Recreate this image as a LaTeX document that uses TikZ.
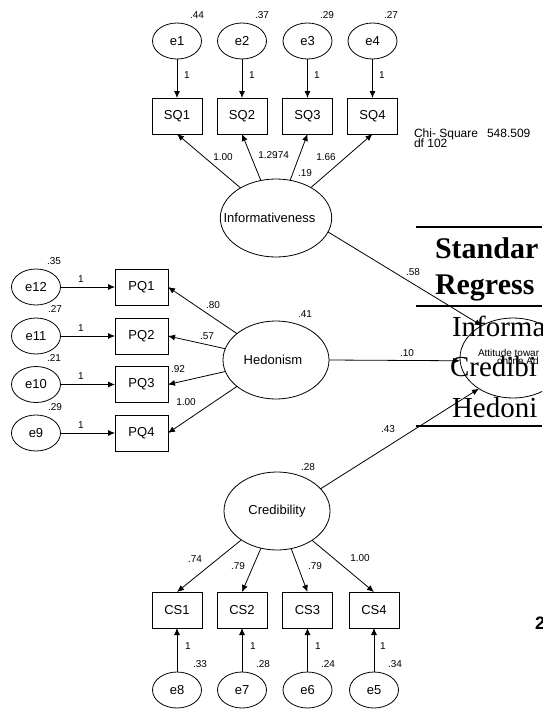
\documentclass[tikz,border=0pt]{standalone}
\usepackage{fontspec}
\setmainfont{Liberation Sans}
\newfontfamily\tabserif{Liberation Serif}
\usetikzlibrary{shapes.geometric,arrows.meta}
\begin{document}
\begin{tikzpicture}[x=1pt,y=-1pt,
  every node/.style={inner sep=0pt,outer sep=0pt},
  lat/.style={ellipse,draw,line width=0.8pt,minimum width=106pt,minimum height=78pt,font=\fontsize{13}{15}\selectfont},
  err/.style={ellipse,draw,line width=0.8pt,minimum width=49pt,minimum height=36pt,font=\fontsize{13}{15}\selectfont},
  obs/.style={rectangle,draw,line width=0.8pt,minimum width=50pt,minimum height=36pt,font=\fontsize{13}{15}\selectfont},
  lbl/.style={font=\fontsize{10}{12}\selectfont},
  arr/.style={-{Latex[length=7pt,width=6pt]},line width=0.8pt},
  tline/.style={line width=1.6pt},
  tabtxt/.style={font=\fontsize{29}{33}\tabserif,anchor=base west},
]
\useasboundingbox (0,0) rectangle (542,720);
\clip (0,0) rectangle (542,720);
\fill[white] (0,0) rectangle (542,720);

% ---------- Informativeness block ----------
\node[err] (e1) at (177,41) {e1};
\node[err] (e2) at (242,41) {e2};
\node[err] (e3) at (307.5,41) {e3};
\node[err] (e4) at (372.5,41) {e4};
\node[obs] (SQ1) at (177,116) {SQ1};
\node[obs] (SQ2) at (242,116) {SQ2};
\node[obs] (SQ3) at (307.5,116) {SQ3};
\node[obs] (SQ4) at (372.5,116) {SQ4};
\node[lat] (Inf) at (276,218) {\hspace*{-13pt}Informativeness};
\foreach \i in {1,...,4}{\draw[arr] (e\i) -- (SQ\i);}
\foreach \i in {1,...,4}{\draw[arr] (Inf) -- (SQ\i.south);}
\node[lbl] (v1) at (197,15) {.44};
\node[lbl] (v2) at (262,15) {.37};
\node[lbl] (v3) at (327,15) {.29};
\node[lbl] (v4) at (391,15) {.27};
\node[lbl] (o1) at (187,75) {1};
\node[lbl] (o2) at (252,75) {1};
\node[lbl] (o3) at (317,75) {1};
\node[lbl] (o4) at (382,75) {1};
\node[lbl] (l1) at (223,157) {1.00};
\node[lbl] (l2) at (268,155) {1.29};
\node[lbl] (l3) at (282,155) {.74};
\node[lbl] (l4) at (326,157) {1.66};
\node[lbl] (r1) at (305,173) {.19};

\node[font=\fontsize{12}{13}\selectfont,anchor=base west] (chi) at (414,137) {Chi- Square\hspace{9pt}548.509};
\node[font=\fontsize{12}{13}\selectfont,anchor=base west] (df) at (414,147.5) {df 102};

% ---------- Hedonism block ----------
\node[err] (e12) at (36,287) {e12};
\node[err] (e11) at (36,336) {e11};
\node[err] (e10) at (36,384.5) {e10};
\node[err] (e9) at (36,433) {e9};
\node[obs,minimum width=53pt] (PQ1) at (141.5,287) {PQ1};
\node[obs,minimum width=53pt] (PQ2) at (141.5,336) {PQ2};
\node[obs,minimum width=53pt] (PQ3) at (141.5,384.5) {PQ3};
\node[obs,minimum width=53pt] (PQ4) at (141.5,433) {PQ4};
\node[lat] (Hed) at (276,360) {\hspace*{-6pt}Hedonism};
\draw[arr] (e12) -- (PQ1);
\draw[arr] (e11) -- (PQ2);
\draw[arr] (e10) -- (PQ3);
\draw[arr] (e9) -- (PQ4);
\foreach \i in {1,...,4}{\draw[arr] (Hed) -- (PQ\i.east);}
\node[lbl] (v12) at (54,261) {.35};
\node[lbl] (v11) at (55,309) {.27};
\node[lbl] (v10) at (54,358) {.21};
\node[lbl] (v9) at (55,407) {.29};
\node[lbl] (o12) at (81,279) {1};
\node[lbl] (o11) at (81,328) {1};
\node[lbl] (o10) at (81,376) {1};
\node[lbl] (o9) at (81,425) {1};
\node[lbl] (h1) at (213,305) {.80};
\node[lbl] (h2) at (207,336) {.57};
\node[lbl] (h3) at (178,369) {.92};
\node[lbl] (h4) at (186,402) {1.00};
\node[lbl] (r2) at (305,314) {.41};

% ---------- Credibility block ----------
\node[lat] (Cred) at (277,511) {Credibility};
\node[obs] (CS1) at (177,610) {CS1};
\node[obs] (CS2) at (242,610) {CS2};
\node[obs] (CS3) at (307.5,610) {CS3};
\node[obs] (CS4) at (374,610) {CS4};
\node[err] (e8) at (177,690) {e8};
\node[err] (e7) at (242,690) {e7};
\node[err] (e6) at (307.5,690) {e6};
\node[err] (e5) at (374,690) {e5};
\foreach \i in {1,...,4}{\draw[arr] (Cred) -- (CS\i.north);}
\draw[arr] (e8) -- (CS1);
\draw[arr] (e7) -- (CS2);
\draw[arr] (e6) -- (CS3);
\draw[arr] (e5) -- (CS4);
\node[lbl] (c1) at (195,559) {.74};
\node[lbl] (c2) at (238,566) {.79};
\node[lbl] (c3) at (315,566) {.79};
\node[lbl] (c4) at (360,558) {1.00};
\node[lbl] (o8) at (188,646) {1};
\node[lbl] (o7) at (253,646) {1};
\node[lbl] (o6) at (318,646) {1};
\node[lbl] (o5) at (383,646) {1};
\node[lbl] (v8) at (200,664) {.33};
\node[lbl] (v7) at (263,664) {.28};
\node[lbl] (v6) at (328,664) {.24};
\node[lbl] (v5) at (395,664) {.34};
\node[lbl] (r3) at (308,467) {.28};

% ---------- Attitude ----------
\node[ellipse,draw,line width=0.8pt,minimum width=106pt,minimum height=80pt] (Att) at (513,358) {};
\node[font=\fontsize{10}{10}\selectfont,anchor=base west] (att1) at (478,356) {Attitude towar};
\node[font=\fontsize{10}{10}\selectfont,anchor=base west] (att2) at (497,364) {online Ad};
\draw[arr] (Inf.-15) -- (Att.134);
\draw[arr] (Hed.east) -- (Att.183);
\draw[arr] (Cred.27) -- (Att.222);
\node[lbl] (p1) at (413,272) {.58};
\node[lbl] (p2) at (407,353) {.10};
\node[lbl] (p3) at (388,429) {.43};

% ---------- table fragment ----------
\coordinate (t1a) at (416,227);
\coordinate (t1b) at (542,227);
\coordinate (t2a) at (416,306);
\coordinate (t2b) at (542,306);
\coordinate (t3a) at (416,426);
\coordinate (t3b) at (542,426);
\draw[tline] (t1a) -- (t1b);
\draw[tline] (t2a) -- (t2b);
\draw[tline] (t3a) -- (t3b);
\node[tabtxt,font=\fontsize{30}{33}\tabserif\bfseries] (s1) at (435,258) {Standar};
\node[tabtxt,font=\fontsize{30}{33}\tabserif\bfseries] (s2) at (435,294) {Regress};
\node[tabtxt] (s3) at (452,336) {Informa};
\node[tabtxt] (s4) at (450,376) {Credibi};
\node[tabtxt] (s5) at (452,417) {Hedoni};

\node[font=\fontsize{18}{20}\selectfont\bfseries,anchor=base west] (two) at (535,629) {2};
\end{tikzpicture}
\end{document}
